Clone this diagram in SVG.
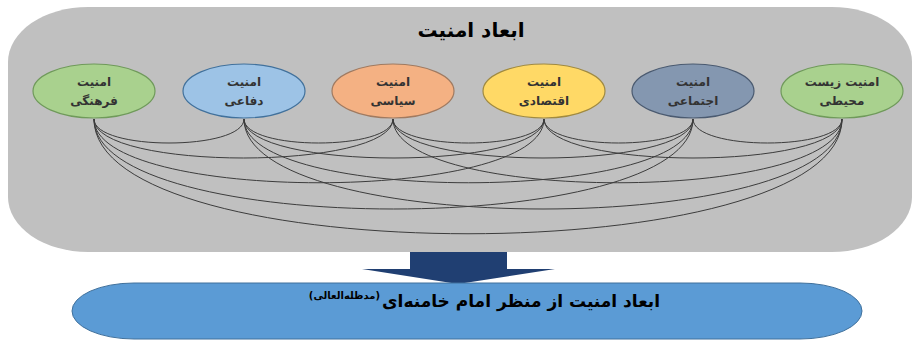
<svg xmlns="http://www.w3.org/2000/svg" width="915" height="341" viewBox="0 0 915 341">
<style>
.node-text{font-family:"DejaVu Sans",sans-serif;font-weight:bold;font-size:12px;fill:#333;text-anchor:middle}
.conn{fill:none;stroke:#3c3c3c;stroke-width:1}
.title{font-family:"DejaVu Sans",sans-serif;font-weight:bold;font-size:20px;fill:#000;text-anchor:middle}
</style>
<rect id="container" x="8" y="7" width="904" height="245" rx="80" ry="55" fill="#c0c0c0"/>
<text class="title" x="471" y="37">ابعاد امنیت</text>
<g id="connectors">
<path class="conn" d="M94,119 C94,151 244,151 244,119"/>
<path class="conn" d="M94,119 C94,171 393,171 393,119"/>
<path class="conn" d="M94,119 C94,204 544,204 544,119"/>
<path class="conn" d="M94,119 C94,239 693,239 693,119"/>
<path class="conn" d="M94,119 C94,272 842,272 842,119"/>
<path class="conn" d="M244,119 C244,151 393,151 393,119"/>
<path class="conn" d="M244,119 C244,171 544,171 544,119"/>
<path class="conn" d="M244,119 C244,204 693,204 693,119"/>
<path class="conn" d="M244,119 C244,239 842,239 842,119"/>
<path class="conn" d="M393,119 C393,151 544,151 544,119"/>
<path class="conn" d="M393,119 C393,171 693,171 693,119"/>
<path class="conn" d="M393,119 C393,204 842,204 842,119"/>
<path class="conn" d="M544,119 C544,151 693,151 693,119"/>
<path class="conn" d="M544,119 C544,171 842,171 842,119"/>
<path class="conn" d="M693,119 C693,151 842,151 842,119"/>
</g>
<g id="node-farhangi">
<ellipse cx="94" cy="91" rx="61" ry="27" fill="#a9d18e" stroke="#6f9a5a" stroke-width="1.2"/>
<text class="node-text" x="94" y="86">امنیت</text>
<text class="node-text" x="94" y="105">فرهنگی</text>
</g>
<g id="node-defaei">
<ellipse cx="244" cy="91" rx="61" ry="27" fill="#9dc3e6" stroke="#41719c" stroke-width="1.2"/>
<text class="node-text" x="244" y="86">امنیت</text>
<text class="node-text" x="244" y="105">دفاعی</text>
</g>
<g id="node-siasi">
<ellipse cx="393" cy="91" rx="61" ry="27" fill="#f4b183" stroke="#a07a60" stroke-width="1.2"/>
<text class="node-text" x="393" y="86">امنیت</text>
<text class="node-text" x="393" y="105">سیاسی</text>
</g>
<g id="node-eghtesadi">
<ellipse cx="544" cy="91" rx="61" ry="27" fill="#ffd966" stroke="#a08a40" stroke-width="1.2"/>
<text class="node-text" x="544" y="86">امنیت</text>
<text class="node-text" x="544" y="105">اقتصادی</text>
</g>
<g id="node-ejtemaei">
<ellipse cx="693" cy="91" rx="61" ry="27" fill="#8497b0" stroke="#4a5a70" stroke-width="1.2"/>
<text class="node-text" x="693" y="86">امنیت</text>
<text class="node-text" x="693" y="105">اجتماعی</text>
</g>
<g id="node-zist">
<ellipse cx="842" cy="91" rx="61" ry="27" fill="#a9d18e" stroke="#6f9a5a" stroke-width="1.2"/>
<text class="node-text" x="842" y="86">امنیت زیست</text>
<text class="node-text" x="842" y="105">محیطی</text>
</g>
<g id="arrow">
<path d="M410,252 H507 V269 H555 L458,284 L362,269 H410 Z" fill="#203f72"/>
</g>
<g id="node-result">
<rect x="72" y="283" width="790" height="56" rx="62" ry="28" fill="#5b9bd5" stroke="#41719c" stroke-width="1"/>
<text font-family="DejaVu Sans, sans-serif" font-weight="bold" font-size="17" fill="#000" x="660" y="307" text-anchor="end">ابعاد امنیت از منظر امام خامنه‌ای</text>
<text font-family="DejaVu Sans, sans-serif" font-weight="bold" font-size="10" fill="#000" x="380" y="299" text-anchor="end">(مدظله‌العالی)</text>
</g>
</svg>
